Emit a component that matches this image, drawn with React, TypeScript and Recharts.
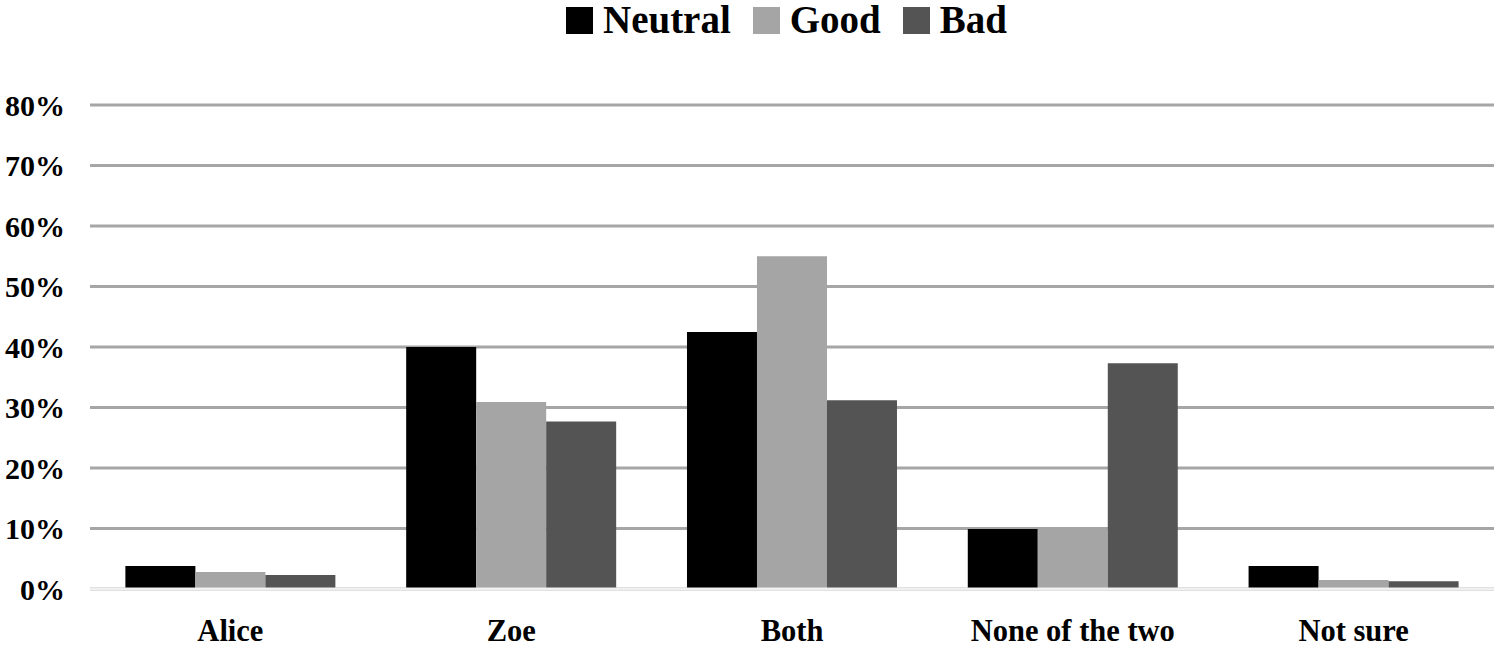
import React from "react";
import { BarChart, Bar, XAxis, YAxis, CartesianGrid, Legend } from "recharts";

const categories = ["Alice", "Zoe", "Both", "None of the two", "Not sure"];
const neutral = [0.038, 0.4, 0.425, 0.099, 0.038];
const good = [0.028, 0.309, 0.55, 0.101, 0.015];
const bad = [0.023, 0.277, 0.312, 0.373, 0.013];
const yTicks = [0, 0.1, 0.2, 0.3, 0.4, 0.5, 0.6, 0.7, 0.8];

const seriesNames = ["Neutral", "Good", "Bad"];
const seriesColors = ["#000000", "#a5a5a5", "#545454"];

const data = categories.map((c, i) => ({
  name: c,
  Neutral: neutral[i],
  Good: good[i],
  Bad: bad[i],
}));

const FONT = "'Liberation Serif', 'Times New Roman', serif";

const YTick = (props: any) => {
  const { x, y, payload } = props;
  return (
    <text
      x={x}
      y={y}
      dy="0.36em"
      textAnchor="end"
      fontFamily={FONT}
      fontWeight="bold"
      fontSize={30}
      fill="#000"
    >
      {Math.round(payload.value * 100) + "%"}
    </text>
  );
};

const XTick = (props: any) => {
  const { x, y, payload } = props;
  return (
    <text
      x={x}
      y={y + 50}
      textAnchor="middle"
      fontFamily={FONT}
      fontWeight="bold"
      fontSize={30.5}
      fill="#000"
    >
      {payload.value}
    </text>
  );
};

const LegendContent = () => (
  <div
    style={{
      height: 45,
      display: "flex",
      justifyContent: "center",
      alignItems: "flex-start",
      paddingLeft: 73,
      boxSizing: "border-box",
      fontFamily: FONT,
      fontWeight: "bold",
      fontSize: 39,
      color: "#000",
      lineHeight: "40px",
    }}
  >
    {seriesNames.map((n, i) => (
      <div
        key={n}
        style={{
          display: "flex",
          alignItems: "center",
          marginRight: i < seriesNames.length - 1 ? 22 : 0,
        }}
      >
        <div
          style={{
            width: 27,
            height: 27,
            background: seriesColors[i],
            marginRight: 10,
          }}
        />
        <span>{n}</span>
      </div>
    ))}
  </div>
);

export default function App() {
  return (
    <div style={{ position: "absolute", left: 0, top: 0, background: "#fff" }}>
      <BarChart
        width={1500}
        height={647}
        data={data}
        margin={{ top: 60, right: 6, left: 0, bottom: 0 }}
        barCategoryGap="12.6%"
        barGap={0}
      >
        <CartesianGrid
          vertical={false}
          stroke="#a6a6a6"
          strokeWidth={3}
        />
        <XAxis
          dataKey="name"
          height={58}
          tickLine={false}
          axisLine={{ stroke: "#f0f0f0", strokeWidth: 3 }}
          tickSize={0}
          tick={<XTick />}
          interval={0}
        />
        <YAxis
          width={90}
          domain={[0, 0.8]}
          ticks={yTicks}
          tickLine={false}
          axisLine={false}
          tickSize={0}
          tickMargin={25}
          tick={<YTick />}
        />
        <Legend
          verticalAlign="top"
          align="center"
          content={<LegendContent />}
          wrapperStyle={{ left: 0, top: 0, width: 1500 }}
        />
        {seriesNames.map((n, i) => (
          <Bar
            key={n}
            dataKey={n}
            fill={seriesColors[i]}
            isAnimationActive={false}
          />
        ))}
      </BarChart>
    </div>
  );
}
